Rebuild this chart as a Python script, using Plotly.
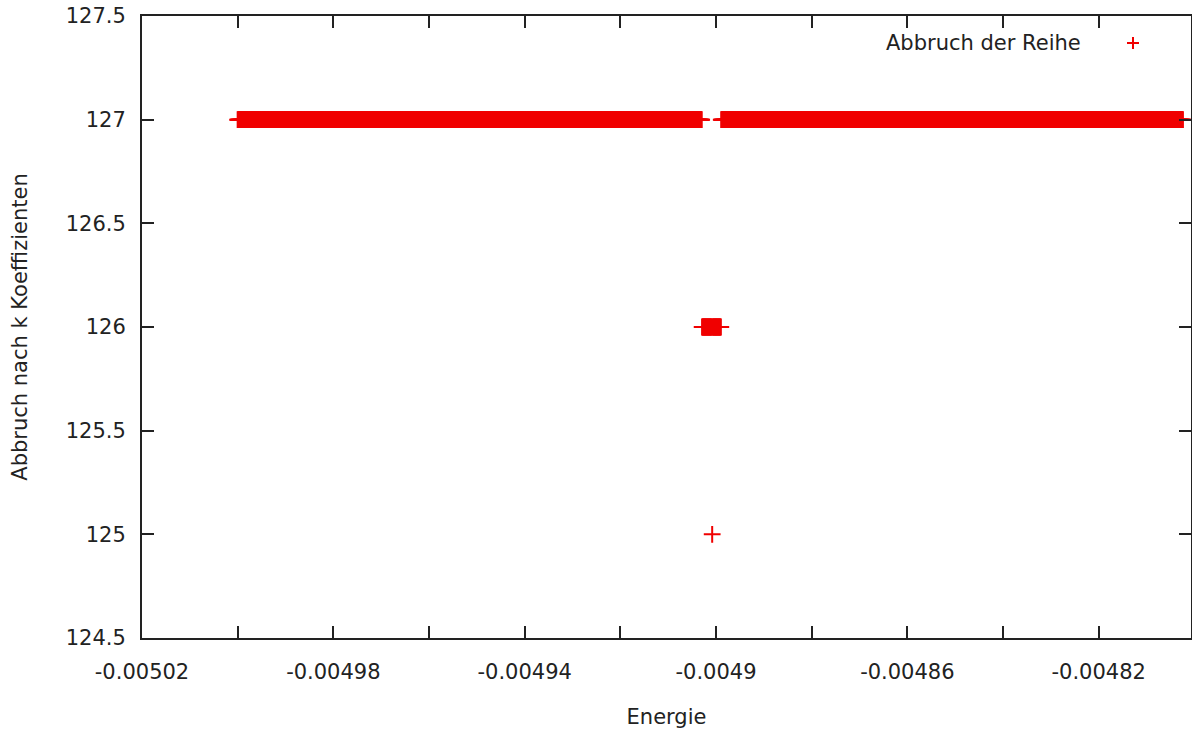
import numpy as np
import plotly.graph_objects as go

# Energy scan: the coefficient count k at which the series was cut off.
# Each run is a contiguous stretch of the energy scan with the same k.
scan_step = 1e-7
run_start = [-0.0050000, -0.0049029, -0.0048989]
run_end = [-0.0049030, -0.0048990, -0.0048024]
run_k = [127, 126, 127]

# single scan point that stops one coefficient earlier
single_energy = [-0.0049008]
single_k = [125]

x_ticks = [-0.00502, -0.00500, -0.00498, -0.00496, -0.00494, -0.00492,
           -0.00490, -0.00488, -0.00486, -0.00484, -0.00482]
x_tick_text = ["-0.00502", "", "-0.00498", "", "-0.00494", "",
               "-0.0049", "", "-0.00486", "", "-0.00482"]
y_ticks = [124.5, 125, 125.5, 126, 126.5, 127, 127.5]
y_tick_text = ["124.5", "125", "125.5", "126", "126.5", "127", "127.5"]

energies, ks = [], []
for a, b, k in zip(run_start, run_end, run_k):
    n = int(round((b - a) / scan_step)) + 1
    e = np.linspace(a, b, n)
    e = e[np.abs(e - single_energy[0]) > scan_step / 2]
    energies.extend(e.tolist())
    ks.extend([k] * len(e))
energies.extend(single_energy)
ks.extend(single_k)

RED = "#f00000"
FONT = "DejaVu Sans"
TXT = "#222222"

fig = go.Figure()
fig.add_trace(go.Scatter(
    x=energies, y=ks, mode="markers", name="Abbruch der Reihe",
    marker=dict(symbol="cross-thin", size=12,
                line=dict(color=RED, width=2)),
    showlegend=False, hoverinfo="x+y",
))

axis_common = dict(
    showgrid=False, zeroline=False, showline=True, linecolor="#222222",
    linewidth=2, ticks="inside", ticklen=12, tickwidth=1.5,
    tickcolor="#222222", mirror="ticks",
    tickfont=dict(family=FONT, size=21, color=TXT),
)

fig.update_xaxes(
    range=[-0.00502, -0.0048007], tickmode="array",
    tickvals=x_ticks, ticktext=x_tick_text, ticklabelstandoff=14,
    title=dict(text="Energie", font=dict(family=FONT, size=21, color=TXT),
               standoff=26),
    **axis_common,
)
fig.update_yaxes(
    range=[124.5, 127.5], tickmode="array",
    tickvals=y_ticks, ticktext=y_tick_text, ticklabelstandoff=10,
    title=dict(text="Abbruch nach k Koeffizienten",
               font=dict(family=FONT, size=21, color=TXT), standoff=32),
    **axis_common,
)

# key placed top-right: label text, then the marker glyph
key_x, key_y = 0.9447, 0.9566
dx, dy = 6 / 1049, 6 / 622
fig.add_annotation(
    x=0.897, y=key_y, xref="paper", yref="paper", xanchor="right",
    yanchor="middle", showarrow=False, text="Abbruch der Reihe",
    font=dict(family=FONT, size=21, color=TXT),
)
fig.add_shape(type="line", xref="paper", yref="paper",
              x0=key_x - dx, x1=key_x + dx, y0=key_y, y1=key_y,
              line=dict(color=RED, width=2))
fig.add_shape(type="line", xref="paper", yref="paper",
              x0=key_x, x1=key_x, y0=key_y - dy, y1=key_y + dy,
              line=dict(color=RED, width=2))

fig.update_layout(
    width=1192, height=731,
    margin=dict(l=142, r=1, t=16, b=93, autoexpand=False),
    plot_bgcolor="white", paper_bgcolor="white",
    font=dict(family=FONT, size=21, color=TXT),
)

fig.write_html("out.html")
